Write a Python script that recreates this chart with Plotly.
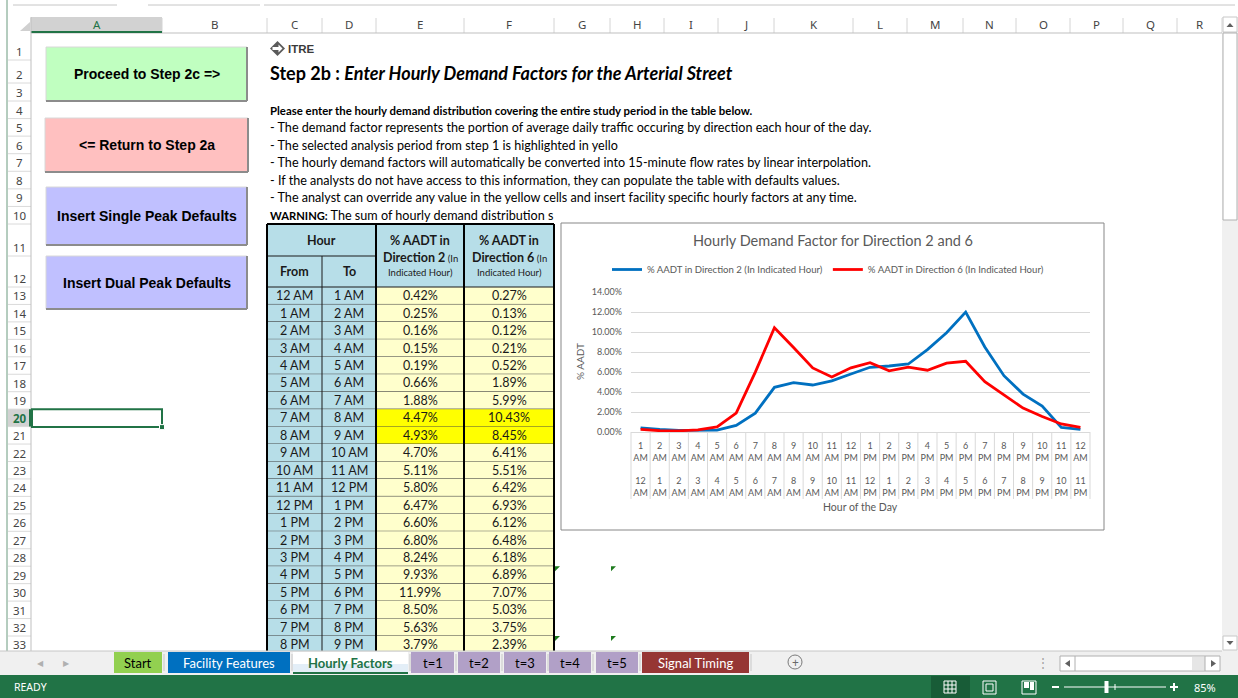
import plotly.graph_objects as go

# ---------------- data ----------------
from_hours = ["12 AM", "1 AM", "2 AM", "3 AM", "4 AM", "5 AM", "6 AM", "7 AM", "8 AM", "9 AM", "10 AM", "11 AM",
              "12 PM", "1 PM", "2 PM", "3 PM", "4 PM", "5 PM", "6 PM", "7 PM", "8 PM", "9 PM", "10 PM", "11 PM"]
to_hours = ["1 AM", "2 AM", "3 AM", "4 AM", "5 AM", "6 AM", "7 AM", "8 AM", "9 AM", "10 AM", "11 AM", "12 PM",
            "1 PM", "2 PM", "3 PM", "4 PM", "5 PM", "6 PM", "7 PM", "8 PM", "9 PM", "10 PM", "11 PM", "12 AM"]
dir2_pct = [0.42, 0.25, 0.16, 0.15, 0.19, 0.66, 1.88, 4.47, 4.93, 4.70, 5.11, 5.80,
            6.47, 6.60, 6.80, 8.24, 9.93, 11.99, 8.50, 5.63, 3.79, 2.60, 0.46, 0.27]
dir6_pct = [0.27, 0.13, 0.12, 0.21, 0.52, 1.89, 5.99, 10.43, 8.45, 6.41, 5.51, 6.42,
            6.93, 6.12, 6.48, 6.18, 6.89, 7.07, 5.03, 3.75, 2.39, 1.55, 0.80, 0.46]
highlight_rows = [7, 8]
visible_rows = 21
series_names = ["% AADT in Direction 2 (In Indicated Hour)", "% AADT in Direction 6 (In Indicated Hour)"]
series_colors = ["#0070C0", "#FF0000"]
col_letters = ["A", "B", "C", "D", "E", "F", "G", "H", "I", "J", "K", "L", "M", "N", "O", "P", "Q", "R"]
tab_names = ["Start", "Facility Features", "Hourly Factors", "t=1", "t=2", "t=3", "t=4", "t=5", "Signal Timing"]

# ---------------- layout helpers ----------------
W, H = 1238, 698
CAL = "Lato, 'Open Sans', sans-serif"
ARIAL = "'Liberation Sans', Arial, sans-serif"
UI = "'Noto Sans', 'Open Sans', sans-serif"
shapes, anns = [], []


def rect(x0, y0, x1, y1, fill=None, lc=None, lw=0):
    shapes.append(dict(type="rect", xref="x", yref="y", x0=x0, y0=y0, x1=x1, y1=y1, layer="below",
                       fillcolor=fill or "rgba(0,0,0,0)",
                       line=dict(color=lc or "rgba(0,0,0,0)", width=lw)))


def seg(x0, y0, x1, y1, c, w=1):
    shapes.append(dict(type="line", xref="x", yref="y", x0=x0, y0=y0, x1=x1, y1=y1, layer="below",
                       line=dict(color=c, width=w)))


def path(p, fill, lc=None, lw=0):
    shapes.append(dict(type="path", xref="x", yref="y", path=p, layer="below", fillcolor=fill,
                       line=dict(color=lc or "rgba(0,0,0,0)", width=lw)))


def txt(x, y, s, size=12, color="#000", fam=CAL, xa="left", angle=0):
    anns.append(dict(x=x, y=y, xref="x", yref="y", text=s, showarrow=False, xanchor=xa, yanchor="middle",
                     font=dict(size=size, color=color, family=fam), textangle=angle, borderpad=0))


# column edges
col_edges = [31, 162, 267, 322, 376, 464, 554, 610, 664, 718, 774, 853, 907, 963, 1016, 1070, 1123, 1177, 1222]
# row edges (row 1 .. row 33)
row_edges = [33, 60, 83, 101]
for k in range(7):
    row_edges.append(101 + (224 - 101) * (k + 1) / 7)
row_edges += [256, 287]
for k in range(21):
    row_edges.append(287 + 17.45 * (k + 1))

# top strip (formula bar remnants)
for a, b in [(13, 117), (148, 260), (264, 1235)]:
    seg(a, 5, b, 5, "#c6c6c6")
seg(7, 0, 7, 651, "#6a9a7e", 1)

# column header row
rect(8, 17, 1222, 33, "#ffffff")
rect(col_edges[0], 17, col_edges[1], 33, "#d2d2d2")
for i, x in enumerate(col_edges):
    seg(x, 18, x, 33, "#d4d4d4")
for i, l in enumerate(col_letters):
    cx = (col_edges[i] + col_edges[i + 1]) / 2
    txt(cx, 24.5, l, 11.5, "#217346" if l == "A" else "#444444", UI, "center")
seg(31, 33, 1222, 33, "#bfbfbf")
seg(col_edges[0], 32, col_edges[1], 32, "#217346", 2)
path("M 20 31 L 30 31 L 30 22 Z", "#d0d0d0")

# row header column
rect(8, 33, 31, 651, "#ffffff")
rect(8, row_edges[19], 31, row_edges[20], "#d2d2d2")
for i in range(33):
    seg(8, row_edges[i + 1], 31, row_edges[i + 1], "#dadada")
    bold = i == 19
    txt(19.5, row_edges[i + 1] - 8.5, ("<b>%d</b>" % (i + 1)) if bold else str(i + 1), 11.5,
        "#217346" if bold else "#444444", UI, "center")
seg(31, 17, 31, 651, "#bfbfbf")
seg(30, row_edges[19], 30, row_edges[20], "#217346", 2)

# selected cell A20
rect(col_edges[0] + 1, row_edges[19], col_edges[1], row_edges[20] + 0.5, None, "#217346", 2)
rect(col_edges[1] - 2.5, row_edges[20] - 2, col_edges[1] + 2.5, row_edges[20] + 3, "#217346", "#ffffff", 1)

# macro buttons
buttons = [("Proceed to Step 2c =>", 46, 47, 247, 101, "#C0FFC0"),
           ("<= Return to Step 2a", 45, 118, 248, 172, "#FFC0C0"),
           ("Insert Single Peak Defaults", 46, 187, 247, 245, "#C0C0FF"),
           ("Insert Dual Peak Defaults", 46, 256, 247, 309, "#C0C0FF")]
for label, x0, y0, x1, y1, c in buttons:
    rect(x0, y0, x1, y1, c, "#d8d8d8", 1)
    seg(x0, y1, x1, y1, "#8c8c8c", 2)
    seg(x1, y0, x1, y1, "#8c8c8c", 2)
    txt((x0 + x1) / 2, (y0 + y1) / 2, "<b>%s</b>" % label.replace("<", "&lt;").replace(">", "&gt;"),
        14, "#000000", ARIAL, "center")

# ITRE logo + title + instructions
path("M 270 48.5 L 277.5 41 L 285 48.5 L 277.5 56 Z", "#5a5a5a")
path("M 272.5 47 L 278.5 47 L 278.5 44.5 L 282.5 48.5 L 278.5 52.5 L 278.5 50 L 272.5 50 Z", "#ffffff")
txt(287, 48.5, "<b>ITRE</b>", 11.5, "#3a3a3a", ARIAL)
txt(269, 73, "<b>Step 2b : <i>Enter Hourly Demand Factors for the Arterial Street</i></b>", 18, "#000", CAL)
lines = ["<b><span style='font-size:11.4px'>Please enter the hourly demand distribution covering the entire study period in the table below.</span></b>",
         "- The demand factor represents the portion of average daily traffic occuring by direction each hour of the day.",
         "- The selected analysis period from step 1 is highlighted in yello",
         "- The hourly demand factors will automatically be converted into 15-minute flow rates by linear interpolation.",
         "- If the analysts do not have access to this information, they can populate the table with defaults values.",
         "- The analyst can override any value in the yellow cells and insert facility specific hourly factors at any time.",
         "<b><span style='font-size:11.2px'>WARNING:</span></b> The sum of hourly demand distribution s"]
for k, s in enumerate(lines):
    txt(269, row_edges[k + 4] - 8.5, s, 12.6, "#000", CAL)

# ---------------- hourly table ----------------
xC, xD, xE, xF, xG = 267, 322, 376, 464, 554
yT, yH, yB = 224, 256, 287
BLUE = "#B7DEE8"
rect(xC, yT, xE, yB, BLUE)
rect(xE, yT, xF, yB, BLUE)
rect(xF, yT, xG, yB, BLUE)
for i in range(visible_rows):
    y0, y1 = row_edges[12 + i], row_edges[13 + i]
    fill = "#FFFF00" if i in highlight_rows else "#FFFFCC"
    rect(xC, y0, xE, y1, BLUE)
    rect(xE, y0, xG, y1, fill)
    seg(xC, y1, xG, y1, "#3c3c3c", 1)
    yc = (y0 + y1) / 2
    txt((xC + xD) / 2, yc, from_hours[i], 12.5, "#1a1a1a", CAL, "center")
    txt((xD + xE) / 2, yc, to_hours[i], 12.5, "#1a1a1a", CAL, "center")
    txt((xE + xF) / 2, yc, "%.2f%%" % dir2_pct[i], 12.5, "#1a1a1a", CAL, "center")
    txt((xF + xG) / 2, yc, "%.2f%%" % dir6_pct[i], 12.5, "#1a1a1a", CAL, "center")
seg(xC, yH, xE, yH, "#1a1a1a", 1)
seg(xC, yB, xG, yB, "#1a1a1a", 1)
seg(xD, yH, xD, 651, "#1a1a1a", 1)
seg(xE, yT, xE, 651, "#000", 2)
seg(xF, yT, xF, 651, "#000", 2)
seg(xG, yT, xG, 651, "#000", 2)
seg(xC, yT, xC, 651, "#000", 2)
seg(xC, yT, xG, yT, "#000", 2)
txt((xC + xE) / 2, (yT + yH) / 2, "<b>Hour</b>", 12.5, "#1a1a1a", CAL, "center")
txt((xC + xD) / 2, (yH + yB) / 2, "<b>From</b>", 12.5, "#1a1a1a", CAL, "center")
txt((xD + xE) / 2, (yH + yB) / 2, "<b>To</b>", 12.5, "#1a1a1a", CAL, "center")
for xa, xb, d in [(xE, xF, "2"), (xF, xG, "6")]:
    cx = (xa + xb) / 2
    txt(cx, 240, "<b>% AADT in</b>", 12.5, "#1a1a1a", CAL, "center")
    txt(cx, 257, "<b>Direction %s</b><span style='font-size:9.5px'> (In</span>" % d, 12.5, "#1a1a1a", CAL, "center")
    txt(cx, 272, "Indicated Hour)", 9.5, "#1a1a1a", CAL, "center")

# error-indicator triangles
for tx in [555, 611]:
    for ty in [row_edges[28], row_edges[32]]:
        path("M %s %s L %s %s L %s %s Z" % (tx, ty, tx + 5, ty, tx, ty + 5), "#1e7b1e")

# ---------------- chart box ----------------
cx0, cy0, cx1, cy1 = 561, 223, 1104, 530
px0, px1, py0, py1 = 631, 1090, 292, 432
rect(cx0, cy0, cx1, cy1, "#ffffff", "#878787", 1)
txt((cx0 + cx1) / 2, 240, "Hourly Demand Factor for Direction 2 and 6", 14.5, "#595959", CAL, "center")
txt(580, (py0 + py1) / 2, "% AADT", 10, "#595959", CAL, "center", -90)
txt((px0 + px1) / 2, 507, "Hour of the Day", 10.5, "#595959", CAL, "center")
ncat = len(from_hours)
for i in range(ncat + 1):
    xx = px0 + (px1 - px0) * i / ncat
    seg(xx, py1, xx, 499, "#d9d9d9", 1)

# ---------------- tab bar + status bar ----------------
rect(0, 651, W, 675, "#f0f0f0")
seg(0, 651, 1222, 651, "#c6c6c6")
txt(40, 662, "◀", 8, "#b0b0b0", UI, "center")
txt(66, 662, "▶", 8, "#b0b0b0", UI, "center")
tab_geom = [(114, 162, "#92D050", "#000000"), (168, 290, "#0070C0", "#FFFFFF"), (293, 408, "#FFFFFF", "#217346"),
            (411, 454, "#B1A0C7", "#000000"), (458, 500, "#B1A0C7", "#000000"), (504, 546, "#B1A0C7", "#000000"),
            (549, 591, "#B1A0C7", "#000000"), (596, 638, "#B1A0C7", "#000000"), (642, 749, "#963634", "#FFFFFF")]
rect(293, 652, 408, 673, "#FFFFFF")
rect(293, 664, 408, 673, "#E3EEF7")
for name, (a, b, bg, fg) in zip(tab_names, tab_geom):
    if name != "Hourly Factors":
        rect(a, 652, b, 673, bg)
    seg(b + 2, 654, b + 2, 671, "#c8c8c8")
    s = "<b>%s</b>" % name if name == "Hourly Factors" else name
    txt((a + b) / 2, 662.5, s, 13, fg, CAL, "center")
seg(293, 673, 408, 673, "#217346", 2)
shapes.append(dict(type="circle", xref="x", yref="y", x0=788, y0=655, x1=802, y1=669, layer="below",
                   line=dict(color="#7a7a7a", width=1)))
txt(795, 662, "+", 12, "#6a6a6a", UI, "center")
txt(1043, 662, "⋮", 12, "#a0a0a0", UI, "center")
rect(1060, 656, 1220, 671, "#ffffff", "#b0b0b0", 1)
rect(1192, 657, 1205, 670, "#e6e6e6")
seg(1075, 656, 1075, 671, "#b0b0b0")
seg(1205, 656, 1205, 671, "#b0b0b0")
path("M 1070 660 L 1070 667 L 1065 663.5 Z", "#606060")
path("M 1211 660 L 1211 667 L 1216 663.5 Z", "#606060")

# vertical scrollbar
rect(1222, 17, W, 651, "#f0f0f0")
rect(1223, 17, 1237, 32, "#ffffff", "#c8c8c8", 1)
rect(1223, 33, 1237, 220, "#ffffff", "#b0b0b0", 1)
rect(1223, 636, 1237, 650, "#ffffff", "#c8c8c8", 1)
path("M 1226.5 27 L 1233.5 27 L 1230 23 Z", "#606060")
path("M 1226.5 641 L 1233.5 641 L 1230 645 Z", "#606060")

# status bar
rect(0, 675, W, H, "#217346")
txt(13, 687, "READY", 10.5, "#ffffff", UI)
rect(931, 676, 970, 698, "#185C37")
for gx in range(4):
    seg(944 + gx * 4, 681, 944 + gx * 4, 693, "#ffffff", 1)
    seg(944, 681 + gx * 4, 956, 681 + gx * 4, "#ffffff", 1)
rect(983, 681, 996, 694, None, "#ffffff", 1)
rect(986, 684, 993, 691, None, "#ffffff", 1)
rect(1022, 681, 1036, 694, None, "#ffffff", 1)
rect(1024, 682, 1029, 688, "#ffffff")
rect(1030, 682, 1034, 690, "#ffffff")
seg(1052, 687, 1059, 687, "#ffffff", 2)
seg(1064, 687, 1166, 687, "#ffffff", 1)
rect(1104.5, 681, 1108.5, 693, "#ffffff")
seg(1115, 684, 1115, 690, "#ffffff", 1)
seg(1170, 687, 1178, 687, "#ffffff", 2)
seg(1174, 683, 1174, 691, "#ffffff", 2)
txt(1205, 687, "85%", 11, "#ffffff", UI, "center")

# ---------------- chart traces ----------------
cat_idx = list(range(ncat))
ticktext = ["%s<br>%s<br> <br>%s<br>%s" % (t.split()[0], t.split()[1], f.split()[0], f.split()[1])
            for t, f in zip(to_hours, from_hours)]

fig = go.Figure()
for vals, nm, col in zip([dir2_pct, dir6_pct], series_names, series_colors):
    fig.add_trace(go.Scatter(x=cat_idx, y=vals, xaxis="x2", yaxis="y2", mode="lines", name=nm,
                             line=dict(color=col, width=2.8), hoverinfo="skip"))

fig.update_layout(
    template="none",
    width=W, height=H, autosize=False,
    margin=dict(l=0, r=0, t=0, b=0, pad=0, autoexpand=False),
    paper_bgcolor="#ffffff", plot_bgcolor="rgba(0,0,0,0)",
    xaxis=dict(range=[0, W], domain=[0, 1], visible=False, fixedrange=True, automargin=False),
    yaxis=dict(range=[H, 0], domain=[0, 1], visible=False, fixedrange=True, automargin=False),
    xaxis2=dict(domain=[px0 / W, px1 / W], anchor="y2", range=[-0.5, ncat - 0.5], automargin=False,
                tickmode="array", tickvals=cat_idx, ticktext=ticktext, tickangle=0,
                showgrid=False, zeroline=False, showline=True, linecolor="#d9d9d9", linewidth=1,
                ticks="", ticklabelstandoff=5, tickfont=dict(size=9, color="#595959", family=CAL),
                fixedrange=True),
    yaxis2=dict(domain=[1 - py1 / H, 1 - py0 / H], anchor="x2", range=[0, 14], dtick=2, automargin=False,
                tickformat=".2f", ticksuffix="%", showgrid=True, gridcolor="#d9d9d9", gridwidth=1,
                zeroline=False, showline=False, ticks="", ticklabelstandoff=8,
                tickfont=dict(size=9, color="#595959", family=CAL), fixedrange=True),
    showlegend=True,
    legend=dict(orientation="h", x=607 / W, y=1 - 255 / H, xanchor="left", yanchor="top",
                bgcolor="rgba(0,0,0,0)", font=dict(size=9.6, color="#595959", family=CAL),
                itemwidth=30, tracegroupgap=0, traceorder="normal"),
    shapes=shapes, annotations=anns,
)

fig.write_html("out.html", config={"displayModeBar": False, "staticPlot": True},
               post_script=("document.documentElement.style.margin='0';"
                            "document.body.style.margin='0';document.body.style.overflow='hidden';"
                            "var gd=document.getElementsByClassName('plotly-graph-div')[0];"
                            "gd.style.position='fixed';gd.style.left='0px';gd.style.top='0px';"))
